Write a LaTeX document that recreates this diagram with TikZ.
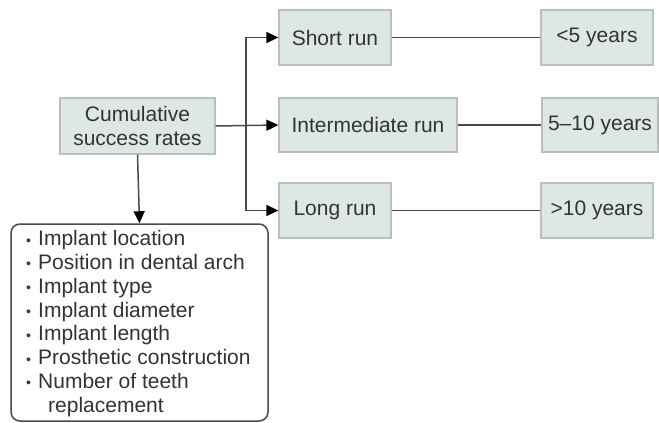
\documentclass[tikz,border=0pt]{standalone}
\usepackage{fontspec}
\setmainfont{Liberation Sans}
\usetikzlibrary{arrows.meta}
\definecolor{boxfill}{HTML}{DDE8E5}
\definecolor{boxline}{HTML}{B8BFBD}
\definecolor{conn}{HTML}{4A4A4A}
\definecolor{txt}{HTML}{333333}
\newcommand{\blt}{\makebox[12pt][l]{\raisebox{0.5pt}{\fontsize{14}{14}\selectfont\textbullet}}}
\begin{document}
\begin{tikzpicture}[x=1pt,y=-1pt,
  tbox/.style={draw=boxline,line width=1.3pt,fill=boxfill,text=txt,inner sep=0pt,align=center,
    font=\fontsize{21}{24}\selectfont},
  link/.style={draw=conn,line width=1.5pt},
  arr/.style={link,-{Triangle[length=12pt,width=11pt,color=black]}}]
\useasboundingbox (0,0) rectangle (659,423);
\fill[white] (0,0) rectangle (659,423);
% boxes
\node[tbox,minimum width=155pt,minimum height=56pt] (cum) at (137.5,126) {Cumulative\\success rates};
\node[tbox,minimum width=112pt,minimum height=55pt] (short) at (335,37.5) {Short run};
\node[tbox,minimum width=178pt,minimum height=54pt] (inter) at (368,125) {Intermediate run};
\node[tbox,minimum width=112pt,minimum height=55pt] (long) at (335,210.5) {Long run};
\node[tbox,minimum width=112pt,minimum height=55pt] (y1) at (597,37.5) {<5 years};
\node[tbox,minimum width=116pt,minimum height=54pt] (y2) at (600,125) {5--10 years};
\node[tbox,minimum width=112pt,minimum height=55pt] (y3) at (597,210.5) {>10 years};
\node[draw=conn,line width=1.5pt,rounded corners=9pt,minimum width=257pt,minimum height=197pt,inner sep=0pt] (list) at (139.5,322.5) {};
\node[anchor=west,text=txt,font=\fontsize{21}{23.8}\selectfont,align=left,inner sep=0pt] (listtext) at (26,323.5)
  {\blt Implant location\\
  \blt Position in dental arch\\
  \blt Implant type\\
  \blt Implant diameter\\
  \blt Implant length\\
  \blt Prosthetic construction\\
  \blt Number of teeth\\
  \hspace*{22pt}replacement};
% connectors
\coordinate (j) at (246,0);
\draw[arr] (cum.east) -- (inter.west);
\draw[arr] (cum.east -| j) |- (short.west);
\draw[arr] (cum.east -| j) |- (long.west);
\draw[arr] (cum.south) -- (list.north);
\draw[link] (short.east) -- (y1.west);
\draw[link] (inter.east) -- (y2.west);
\draw[link] (long.east) -- (y3.west);
\end{tikzpicture}
\end{document}
